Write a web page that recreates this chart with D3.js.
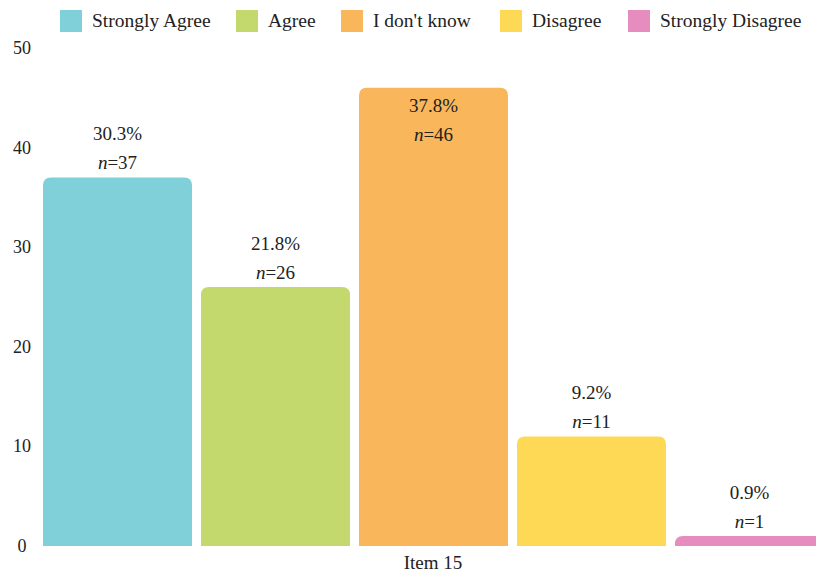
<!DOCTYPE html>
<html>
<head>
<meta charset="utf-8">
<script src="https://cdn.jsdelivr.net/npm/d3@7"></script>
<style>
  html, body { margin: 0; padding: 0; background: #fff; }
  svg { display: block; }
  text { font-family: "Liberation Serif", "Times New Roman", serif; fill: #222; }
</style>
</head>
<body>
<svg id="chart" width="816" height="573"></svg>
<script>
// Responses to Item 15
const categories = ["Strongly Agree", "Agree", "I don't know", "Disagree", "Strongly Disagree"];
const counts = [37, 26, 46, 11, 1];
const percents = ["30.3%", "21.8%", "37.8%", "9.2%", "0.9%"];
const colors = ["#80d0da", "#c4d96d", "#f9b65b", "#fdd955", "#e78cbf"];
const yTicks = [0, 10, 20, 30, 40, 50];
const itemLabel = "Item 15";

const svg = d3.select("#chart");
const W = 816, H = 573;
const margin = { left: 43, top: 48, bottom: 27 };
const step = 158, barW = 149;

const x = d3.scaleBand()
  .domain(categories)
  .range([margin.left, margin.left + 4 * step + barW])
  .paddingInner((step - barW) / step)
  .paddingOuter(0);

const y = d3.scaleLinear()
  .domain([0, 50])
  .range([H - margin.bottom, margin.top]);

// y tick labels
svg.append("g").selectAll("text")
  .data(yTicks)
  .join("text")
  .attr("x", 22)
  .attr("y", d => y(d) + 6)
  .attr("text-anchor", "middle")
  .attr("font-size", 18)
  .text(d => d);

// bars with rounded top corners
const r = 8;
function topRounded(x0, y0, w, h) {
  const rr = Math.min(r, h, w / 2);
  return `M${x0},${y0 + h}V${y0 + rr}Q${x0},${y0} ${x0 + rr},${y0}` +
         `H${x0 + w - rr}Q${x0 + w},${y0} ${x0 + w},${y0 + rr}V${y0 + h}Z`;
}

svg.append("g").selectAll("path")
  .data(categories)
  .join("path")
  .attr("fill", (d, i) => colors[i])
  .attr("d", (d, i) => {
    const top = y(counts[i]);
    return topRounded(x(d), top, x.bandwidth(), y(0) - top);
  });

// value labels: percentage and n
const labels = svg.append("g");
categories.forEach((c, i) => {
  const cx = x(c) + x.bandwidth() / 2;
  const top = y(counts[i]);
  const inside = counts[i] > 45;
  const b1 = inside ? top + 24 : top - 37;
  const b2 = inside ? top + 53 : top - 8;
  labels.append("text")
    .attr("x", cx).attr("y", b1)
    .attr("text-anchor", "middle")
    .attr("font-size", 19)
    .text(percents[i]);
  const t = labels.append("text")
    .attr("x", cx).attr("y", b2)
    .attr("text-anchor", "middle")
    .attr("font-size", 19);
  t.append("tspan").attr("font-style", "italic").text("n");
  t.append("tspan").text("=" + counts[i]);
});

// category label
svg.append("text")
  .attr("x", 433)
  .attr("y", 569)
  .attr("text-anchor", "middle")
  .attr("font-size", 19)
  .text(itemLabel);

// legend
const legendX = [60, 236, 341, 500, 628];
const legend = svg.append("g");
categories.forEach((c, i) => {
  legend.append("rect")
    .attr("x", legendX[i]).attr("y", 10)
    .attr("width", 22).attr("height", 22)
    .attr("fill", colors[i]);
  legend.append("text")
    .attr("x", legendX[i] + 32).attr("y", 27)
    .attr("font-size", 19.5)
    .text(c);
});
</script>
</body>
</html>
